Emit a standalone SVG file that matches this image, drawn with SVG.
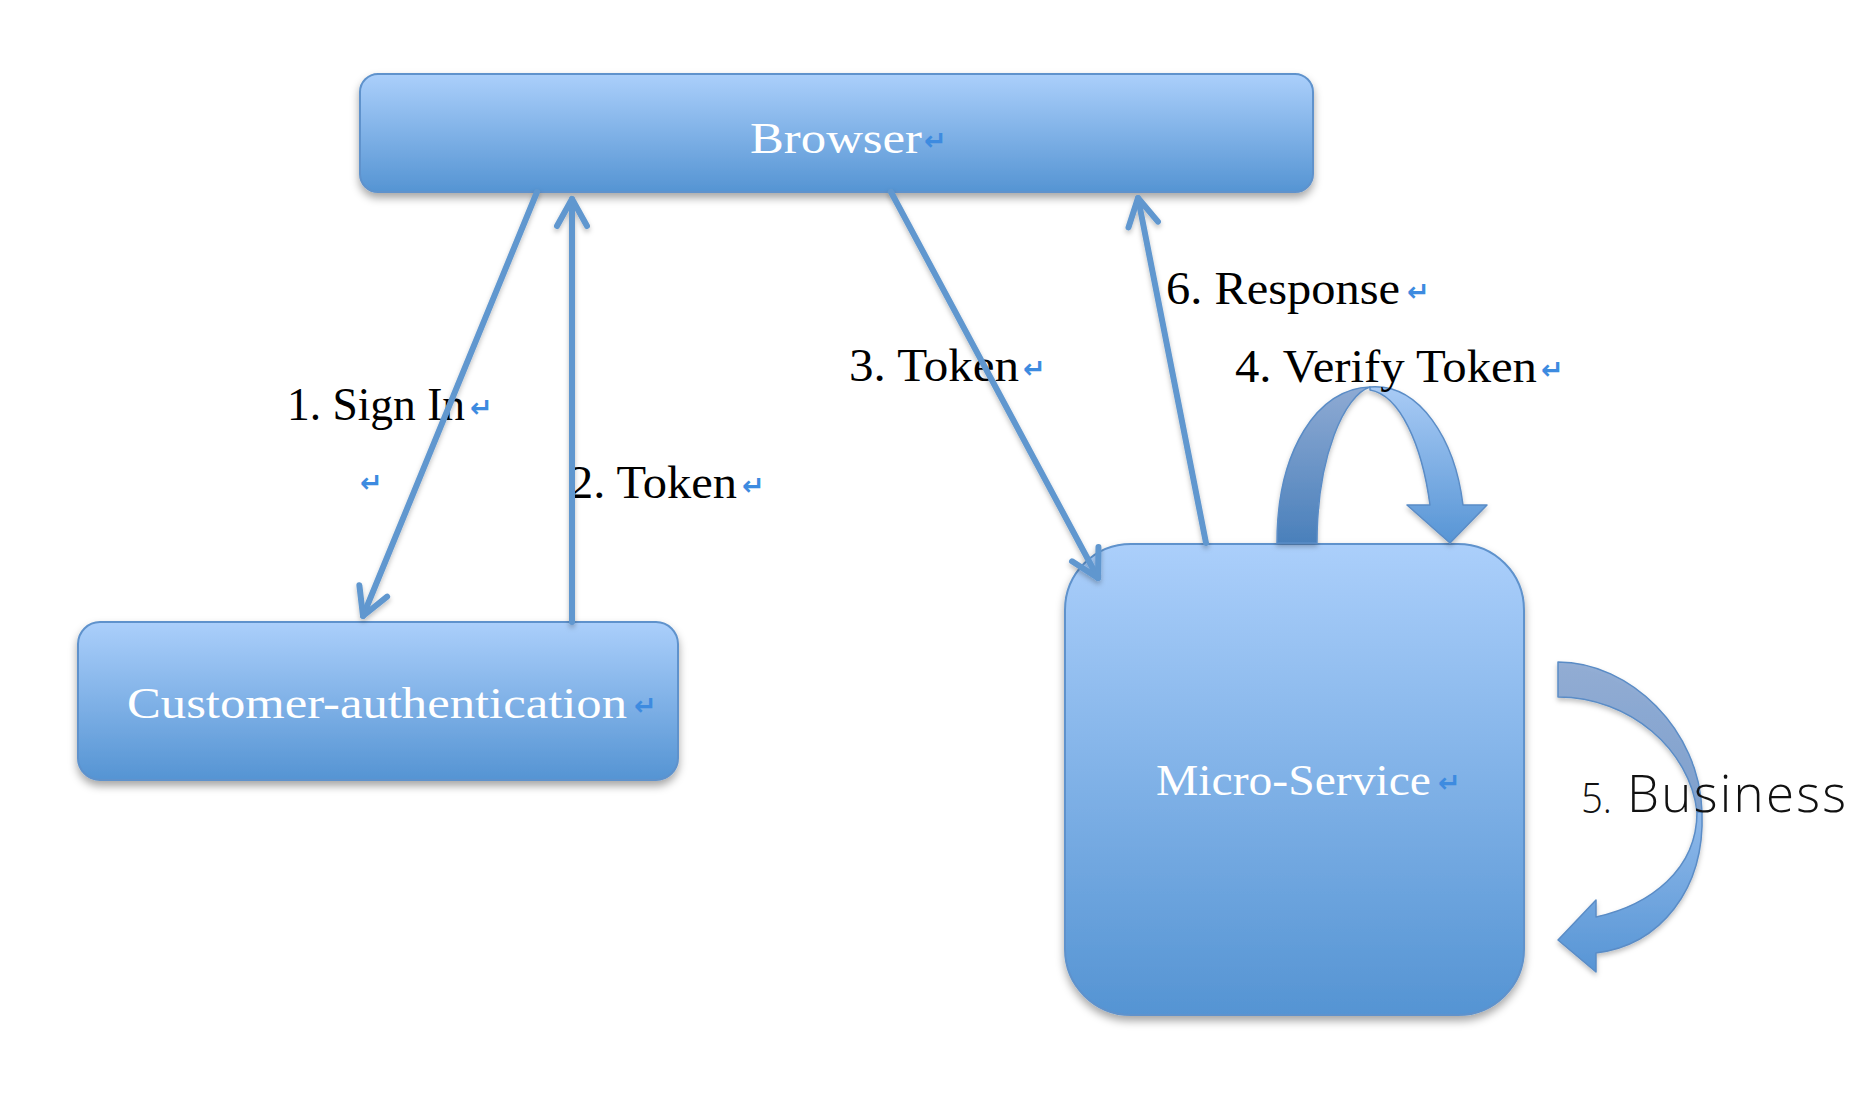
<svg xmlns="http://www.w3.org/2000/svg" width="1858" height="1110" viewBox="0 0 1858 1110">
  <defs>
    <linearGradient id="boxGrad" x1="0" y1="0" x2="0" y2="1">
      <stop offset="0" stop-color="#abcffb"/>
      <stop offset="1" stop-color="#5594d3"/>
    </linearGradient>
    <linearGradient id="darkGrad" x1="0" y1="0" x2="0" y2="1">
      <stop offset="0" stop-color="#8eaad3"/>
      <stop offset="1" stop-color="#4a80bb"/>
    </linearGradient>
    <linearGradient id="lightGrad" x1="0" y1="0" x2="0" y2="1">
      <stop offset="0" stop-color="#a9cbf5"/>
      <stop offset="1" stop-color="#5795d5"/>
    </linearGradient>
    <linearGradient id="dark5" x1="0" y1="0" x2="0" y2="1">
      <stop offset="0" stop-color="#8eaad3"/>
      <stop offset="1" stop-color="#7a9dcc"/>
    </linearGradient>
    <linearGradient id="light5" x1="0" y1="0" x2="0" y2="1">
      <stop offset="0" stop-color="#8fb9ea"/>
      <stop offset="1" stop-color="#5795d5"/>
    </linearGradient>
    <filter id="shadow" x="-10%" y="-10%" width="120%" height="130%">
      <feDropShadow dx="0" dy="5" stdDeviation="4" flood-color="#000" flood-opacity="0.35"/>
    </filter>
    <filter id="lineShadow" filterUnits="userSpaceOnUse" x="0" y="0" width="1858" height="1110">
      <feDropShadow dx="0" dy="3" stdDeviation="2.5" flood-color="#000" flood-opacity="0.25"/>
    </filter>
    <marker id="chev" markerUnits="userSpaceOnUse" viewBox="-40 -25 50 50" refX="0" refY="0" markerWidth="50" markerHeight="50" orient="auto">
      <path d="M-27,-15 L0,0 L-27,15" fill="none" stroke="#6097cf" stroke-width="6" stroke-linecap="round" stroke-linejoin="round"/>
    </marker>
    <style>
      .box { fill: url(#boxGrad); stroke: #5e92cc; stroke-width: 2; filter: url(#shadow); }
      .nodeText { font-family: "Liberation Serif", "Times New Roman", serif; font-size: 45px; fill: #ffffff; }
      .label { font-family: "Liberation Serif", "Times New Roman", serif; font-size: 46px; fill: #000000; }
      .ret { font-family: "DejaVu Sans", sans-serif; font-size: 27px; font-weight: bold; fill: #3d8be0; }
      .conn { fill: none; stroke: #6097cf; stroke-width: 6; stroke-linecap: round; marker-end: url(#chev); }
      .band { stroke: #5a8cc6; stroke-width: 1.5; stroke-linejoin: round; }
      .biz { font-family: "Open Sans", "Noto Sans", sans-serif; font-weight: 300; fill: #111111; }
    </style>
  </defs>
  <rect width="1858" height="1110" fill="#ffffff"/>

  <g id="browser">
    <rect class="box" x="360" y="74" width="953" height="118" rx="18" ry="18"/>
    <text class="nodeText" x="750" y="153" textLength="172" lengthAdjust="spacingAndGlyphs">Browser</text>
    <text class="ret" x="924" y="150">↵</text>
  </g>

  <g id="customer-authentication">
    <rect class="box" x="78" y="622" width="600" height="158" rx="22" ry="22"/>
    <text class="nodeText" x="127" y="718" textLength="500" lengthAdjust="spacingAndGlyphs">Customer-authentication</text>
    <text class="ret" x="634" y="715">↵</text>
  </g>

  <g id="micro-service">
    <rect class="box" x="1065" y="544" width="459" height="471" rx="66" ry="66"/>
    <text class="nodeText" x="1156" y="795" textLength="275" lengthAdjust="spacingAndGlyphs">Micro-Service</text>
    <text class="ret" x="1438" y="792">↵</text>
  </g>

  <g id="self-arrows" filter="url(#lineShadow)">
    <g id="verify-token-arrow">
      <path class="band" fill="url(#darkGrad)" d="M1277,543 C1277,450 1318,388 1370,387 C1345,395 1317,455 1317,543 Z"/>
      <path class="band" fill="url(#lightGrad)" d="M1370,387 C1420,383 1455,440 1463,505 L1487,505 L1450,543 L1407,505 L1430,505 C1422,445 1400,395 1370,390 Z"/>
    </g>
    <g id="business-arrow">
      <path class="band" fill="url(#dark5)" fill-opacity="0.95" d="M1558,662 C1630,662 1700,730 1702,812 L1697,812 C1690,750 1630,697 1558,697 Z"/>
      <path class="band" fill="url(#light5)" d="M1702,812 C1705,890 1660,945 1596,953 L1596,972 L1558,940 L1596,900 L1596,917 C1650,905 1697,870 1697,812 Z"/>
    </g>
  </g>

  <g id="labels">
    <text class="label" x="287" y="420" textLength="178" lengthAdjust="spacingAndGlyphs">1. Sign In</text>
    <text class="ret" x="470" y="417">↵</text>
    <text class="ret" x="360" y="492">↵</text>
    <text class="label" x="569" y="498" textLength="168" lengthAdjust="spacingAndGlyphs">2. Token</text>
    <text class="ret" x="742" y="495">↵</text>
    <text class="label" x="849" y="381" textLength="170" lengthAdjust="spacingAndGlyphs">3. Token</text>
    <text class="ret" x="1023" y="378">↵</text>
    <text class="label" x="1166" y="304" textLength="234" lengthAdjust="spacingAndGlyphs">6. Response</text>
    <text class="ret" x="1407" y="301">↵</text>
    <text class="label" x="1235" y="382" textLength="302" lengthAdjust="spacingAndGlyphs">4. Verify Token</text>
    <text class="ret" x="1541" y="379">↵</text>
    <text class="biz" x="1581" y="813" font-size="42" font-weight="400" fill="#000000" textLength="31" lengthAdjust="spacingAndGlyphs">5.</text>
    <text class="biz" x="1627" y="812" font-size="51" textLength="219" lengthAdjust="spacing">Business</text>
  </g>

  <g id="connectors" filter="url(#lineShadow)">
    <line class="conn" x1="537" y1="192" x2="363" y2="616"/>
    <line class="conn" x1="572" y1="622" x2="572" y2="199"/>
    <line class="conn" x1="891" y1="192" x2="1098" y2="578"/>
    <line class="conn" x1="1206" y1="543" x2="1138" y2="198"/>
  </g>
</svg>
